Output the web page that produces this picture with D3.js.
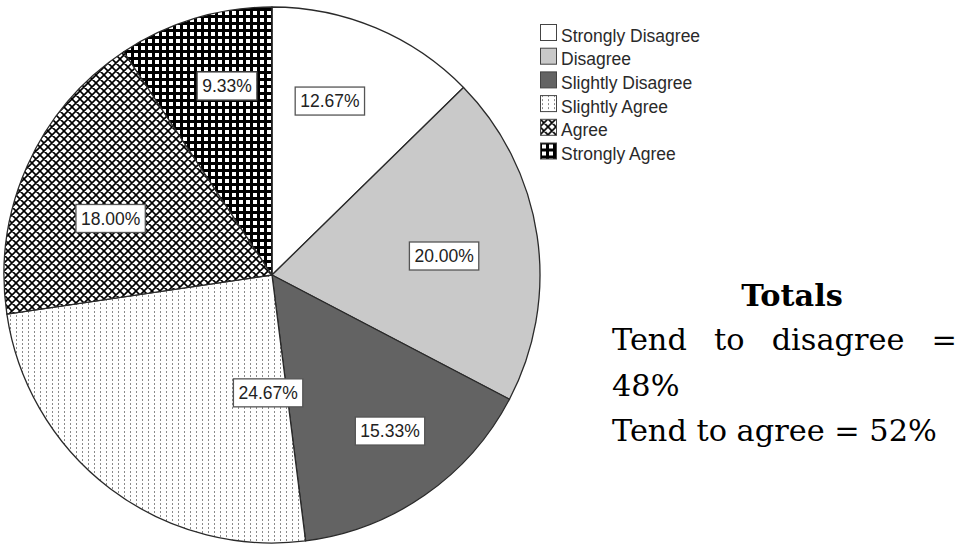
<!DOCTYPE html>
<html>
<head>
<meta charset="utf-8">
<script src="https://cdn.jsdelivr.net/npm/d3@7"></script>
<style>
  html, body { margin: 0; padding: 0; background: #fff; }
  svg { display: block; }
</style>
</head>
<body>
<svg id="chart" width="960" height="545"></svg>
<script>
// Response categories, in drawing order (clockwise from 12 o'clock)
const categories = ["Strongly Disagree", "Disagree", "Slightly Disagree", "Slightly Agree", "Agree", "Strongly Agree"];
// Share of responses per category, in percent
const percentages = [12.67, 20.00, 15.33, 24.67, 18.00, 9.33];
// Side note with the summed totals
const totalsTitle = "Totals";
const totalsDisagree = ["Tend", "to", "disagree", "="];
const totalsDisagreeTail = "48%";
const totalsAgree = "Tend to agree = 52%";

// ---- layout & styles ----
const W = 960, H = 545;
const cx = 272, cy = 275, R = 268;
const fills = ["#ffffff", "#c9c9c9", "#636363", "url(#pDots)", "url(#pCross)", "url(#pGrid)"];
// label anchor for each slice: [angle in degrees clockwise from top, fraction of radius]
const labelSpots = [[18.4, 0.684], [83.7, 0.646], [142.9, 0.73], [181.9, 0.44], [289.3, 0.638], [346.6, 0.725]];

const svg = d3.select("#chart");
svg.append("rect").attr("width", W).attr("height", H).attr("fill", "#fff");

// ---- fill patterns ----
const defs = svg.append("defs");
// vertical dotted lines
const pd = defs.append("pattern").attr("id", "pDots").attr("patternUnits", "userSpaceOnUse")
  .attr("width", 6).attr("height", 4);
pd.append("rect").attr("width", 6).attr("height", 4).attr("fill", "#fff");
pd.append("rect").attr("x", 2).attr("y", 0).attr("width", 1).attr("height", 2).attr("fill", "#8a8a8a");
// diagonal cross-hatch
const pc = defs.append("pattern").attr("id", "pCross").attr("patternUnits", "userSpaceOnUse")
  .attr("width", 8).attr("height", 8);
pc.append("rect").attr("width", 8).attr("height", 8).attr("fill", "#fff");
pc.append("path").attr("d", "M-2,-2L10,10M10,-2L-2,10M-2,6L2,10M6,-2L10,2M6,10L10,6M-2,2L2,-2")
  .attr("stroke", "#000").attr("stroke-width", 1.6).attr("fill", "none");
// black with white squares
const pg = defs.append("pattern").attr("id", "pGrid").attr("patternUnits", "userSpaceOnUse")
  .attr("width", 7).attr("height", 7);
pg.append("rect").attr("width", 7).attr("height", 7).attr("fill", "#000");
pg.append("rect").attr("x", 2).attr("y", 2).attr("width", 4).attr("height", 4).attr("fill", "#fff");

// ---- pie ----
const pie = d3.pie().sort(null).value(d => d);
const arcs = pie(percentages);
const arc = d3.arc().innerRadius(0).outerRadius(R);

const g = svg.append("g").attr("transform", `translate(${cx},${cy})`);
g.selectAll("path.slice").data(arcs).join("path")
  .attr("class", "slice")
  .attr("d", arc)
  .attr("fill", (d, i) => fills[i])
  .attr("stroke", "#2a2a2a")
  .attr("stroke-width", 1.3)
  .attr("stroke-linejoin", "round");

// value labels in boxes
const fmt = d3.format(".2f");
const labels = g.selectAll("g.lbl").data(arcs).join("g").attr("class", "lbl")
  .attr("transform", (d, i) => {
    const a = labelSpots[i][0] * Math.PI / 180, r = labelSpots[i][1] * R;
    return `translate(${r * Math.sin(a)},${-r * Math.cos(a)})`;
  });
labels.each(function (d) {
  const sel = d3.select(this);
  const t = sel.append("text")
    .attr("text-anchor", "middle").attr("dy", "0.36em")
    .attr("font-family", "'Liberation Sans', Arial, sans-serif")
    .attr("font-size", 17.5).attr("fill", "#222")
    .text(fmt(d.data) + "%");
  const w = t.node().getComputedTextLength();
  sel.insert("rect", "text")
    .attr("x", -w / 2 - 5).attr("y", -14).attr("width", w + 10).attr("height", 28)
    .attr("fill", "#fff").attr("stroke", "#555").attr("stroke-width", 1.3);
});

// ---- legend ----
const legend = svg.append("g").attr("transform", "translate(540,24)");
const rows = legend.selectAll("g").data(categories).join("g")
  .attr("transform", (d, i) => `translate(0,${i * 23.7})`);
rows.append("rect").attr("x", 0.5).attr("y", 0.5).attr("width", 16).attr("height", 16)
  .attr("fill", (d, i) => fills[i]).attr("stroke", "#444").attr("stroke-width", 1);
rows.append("text").attr("x", 21).attr("y", 17.5)
  .attr("font-family", "'Liberation Sans', Arial, sans-serif")
  .attr("font-size", 17.5).attr("fill", "#2a2a2a")
  .text(d => d);

// ---- totals note ----
const serif = "'DejaVu Serif', 'Liberation Serif', serif";
const noteX0 = 612, noteX1 = 957;
const note = svg.append("g");
// size the font so the last line spans its measured width
const probe = note.append("text").attr("font-family", serif).attr("font-size", 100).text(totalsAgree);
const fs = 100 * 325 / probe.node().getComputedTextLength();
probe.remove();

note.append("text").attr("x", 792).attr("y", 306).attr("text-anchor", "middle")
  .attr("font-family", serif).attr("font-weight", "bold").attr("font-size", fs).attr("fill", "#000")
  .text(totalsTitle);

// justified first line
const words = totalsDisagree.map(w => note.append("text")
  .attr("font-family", serif).attr("font-size", fs).attr("fill", "#000").attr("y", 350).text(w));
const widths = words.map(t => t.node().getComputedTextLength());
const gap = (noteX1 - noteX0 - d3.sum(widths)) / (words.length - 1);
let x = noteX0;
words.forEach((t, i) => { t.attr("x", x); x += widths[i] + gap; });

note.append("text").attr("x", noteX0).attr("y", 396)
  .attr("font-family", serif).attr("font-size", fs).attr("fill", "#000").text(totalsDisagreeTail);
note.append("text").attr("x", noteX0).attr("y", 441)
  .attr("font-family", serif).attr("font-size", fs).attr("fill", "#000").text(totalsAgree);
</script>
</body>
</html>
